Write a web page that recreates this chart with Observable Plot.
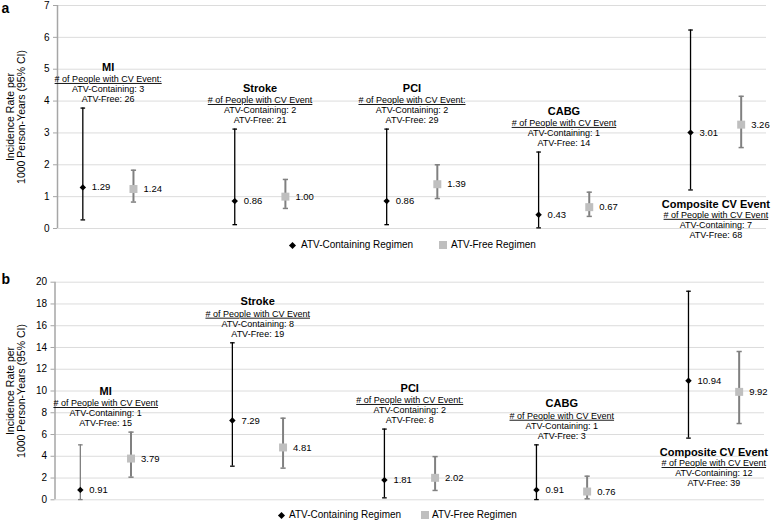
<!DOCTYPE html>
<html>
<head>
<meta charset="utf-8">
<script src="https://cdn.jsdelivr.net/npm/d3@7"></script>
<script src="https://cdn.jsdelivr.net/npm/@observablehq/plot@0.6"></script>
<style>
  body { margin: 0; background: #fff; font-family: "Liberation Sans", Arial, sans-serif; }
  #wrap { width: 778px; }
  .lg { position: relative; width: 778px; font-size: 10px; color: #000; }
  .lg .dia { position: absolute; width: 5px; height: 5px; background: #000; transform: rotate(45deg); }
  .lg .sq { position: absolute; width: 8px; height: 8px; background: #bfbfbf; }
  .lg .t { position: absolute; white-space: nowrap; }
  svg { display: block; overflow: visible; position: relative; }
</style>
</head>
<body>
<div id="wrap"></div>
<script>
// ---------- data ----------
const categories = ["MI", "Stroke", "PCI", "CABG", "Composite CV Event"];

// Panel a
const aTicks = [0, 1, 2, 3, 4, 5, 6, 7];
const aContaining   = [1.29, 0.86, 0.86, 0.43, 3.01];
const aContainingLo = [0.27, 0.12, 0.12, 0.02, 1.21];
const aContainingHi = [3.78, 3.12, 3.12, 2.40, 6.23];
const aFree   = [1.24, 1.00, 1.39, 0.67, 3.26];
const aFreeLo = [0.83, 0.63, 0.94, 0.38, 2.54];
const aFreeHi = [1.83, 1.54, 2.00, 1.14, 4.15];
const aCountContaining = [3, 2, 2, 1, 7];
const aCountFree = [26, 21, 29, 14, 68];
const aHeaders = ["# of People with CV Event:", "# of People with CV Event", "# of People with CV Event:", "# of People with CV Event", "# of People with CV Event"];

// Panel b
const bTicks = [0, 2, 4, 6, 8, 10, 12, 14, 16, 18, 20];
const bContaining   = [0.91, 7.29, 1.81, 0.91, 10.94];
const bContainingLo = [0.02, 3.09, 0.18, 0.02, 5.67];
const bContainingHi = [5.05, 14.43, 6.50, 5.05, 19.17];
const bFree   = [3.79, 4.81, 2.02, 0.76, 9.92];
const bFreeLo = [2.08, 2.91, 0.86, 0.09, 7.01];
const bFreeHi = [6.22, 7.50, 3.97, 2.17, 13.63];
const bCountContaining = [1, 8, 2, 1, 12];
const bCountFree = [15, 19, 8, 3, 39];
const bHeaders = ["# of People with CV Event", "# of People with CV Event", "# of People with CV Event:", "# of People with CV Event", "# of People with CV Event"];

const yLabel = "Incidence Rate per\n1000 Person-Years (95% CI)";
const legendLabels = ["ATV-Containing Regimen", "ATV-Free Regimen"];

// ---------- drawing ----------
const FONT = "'Liberation Sans', Arial, sans-serif";
const capSym = {
  draw(ctx, size) {
    const h = Math.sqrt(size / Math.PI);
    ctx.moveTo(-h, 0);
    ctx.lineTo(h, 0);
  }
};

function panel(cfg) {
  const n = categories.length;
  const rows = categories.map((cat, i) => ({
    cat, i,
    xc: i * 3, xf: i * 3 + 1, xm: i * 3 + 0.5,
    c: cfg.containing[i], cLo: cfg.cLo[i], cHi: cfg.cHi[i],
    f: cfg.free[i], fLo: cfg.fLo[i], fHi: cfg.fHi[i],
    nC: cfg.nC[i], nF: cfg.nF[i], header: cfg.headers[i],
    top: Math.max(cfg.cHi[i], cfg.fHi[i]),
    bottom: Math.min(cfg.cLo[i], cfg.fLo[i]),
    below: i === n - 1,
    cStroke: cfg.grayFirst && i === 0 ? "#808080" : "#000"
  }));
  const above = rows.filter(d => !d.below);
  const below = rows.filter(d => d.below);

  const yA = d => d.below ? d.bottom : d.top;
  const annot = (data, dys) => [
    Plot.text(data, {x: "xm", y: yA, text: "cat", dy: dys[0], fontWeight: "bold", fontSize: 11, fill: "#000"}),
    Plot.text(data, {x: "xm", y: yA, text: "header", dy: dys[1], fontSize: 9, fill: "#000"}),
    Plot.text(data, {x: "xm", y: yA, text: d => `ATV-Containing: ${d.nC}`, dy: dys[2], fontSize: 9, fill: "#000"}),
    Plot.text(data, {x: "xm", y: yA, text: d => `ATV-Free: ${d.nF}`, dy: dys[3], fontSize: 9, fill: "#000"})
  ];

  const svg = Plot.plot({
    width: 778,
    height: cfg.height,
    marginTop: cfg.marginTop,
    marginBottom: cfg.marginBottom,
    marginLeft: cfg.marginLeft,
    marginRight: cfg.marginRight,
    style: {fontFamily: FONT, fontSize: "10px", color: "#000", background: "transparent", overflow: "visible"},
    x: {domain: [-0.5, 13.5], axis: null},
    y: {domain: [0, cfg.ticks[cfg.ticks.length - 1]], axis: null},
    color: {type: "identity"},
    marks: [
      Plot.gridY(cfg.ticks, {stroke: "#dcdcdc", strokeOpacity: 1}),
      Plot.ruleX([-0.5], {stroke: "#a6a6a6", strokeWidth: 1.5}),
      Plot.axisY(cfg.ticks, {tickSize: 4, tickPadding: 4, stroke: "#a6a6a6", fill: "#000", fontSize: 10, label: null}),
      // ATV-containing error bars
      Plot.ruleX(rows, {x: "xc", y1: "cLo", y2: "cHi", stroke: "cStroke", strokeWidth: 1.3}),
      Plot.dot(rows, {x: "xc", y: "cLo", symbol: capSym, r: 2.3, stroke: "cStroke", strokeWidth: 1.3, fill: "none"}),
      Plot.dot(rows, {x: "xc", y: "cHi", symbol: capSym, r: 2.3, stroke: "cStroke", strokeWidth: 1.3, fill: "none"}),
      // ATV-free error bars
      Plot.ruleX(rows, {x: "xf", y1: "fLo", y2: "fHi", stroke: "#808080", strokeWidth: 2}),
      Plot.dot(rows, {x: "xf", y: "fLo", symbol: capSym, r: 2.6, stroke: "#808080", strokeWidth: 1.5, fill: "none"}),
      Plot.dot(rows, {x: "xf", y: "fHi", symbol: capSym, r: 2.6, stroke: "#808080", strokeWidth: 1.5, fill: "none"}),
      // markers
      Plot.dot(rows, {x: "xc", y: "c", symbol: "diamond2", r: 2.9, fill: "#000", stroke: "none"}),
      Plot.dot(rows, {x: "xf", y: "f", symbol: "square", r: 4.5, fill: "#bfbfbf", stroke: "none"}),
      // value labels
      Plot.text(rows, {x: "xc", y: "c", text: d => d.c.toFixed(2), dx: 9, textAnchor: "start", fontSize: 9.5, fill: "#000"}),
      Plot.text(rows, {x: "xf", y: "f", text: d => d.f.toFixed(2), dx: 10, textAnchor: "start", fontSize: 9.5, fill: "#000"}),
      // annotations
      ...annot(above, [-41, -29, -19, -9]),
      ...annot(below, [14.5, 25, 35, 45]),
      // panel letter
      Plot.text([cfg.letter], {frameAnchor: "top-left", dx: 1 - cfg.marginLeft, dy: cfg.letterDy, textAnchor: "start", lineAnchor: "top", fontWeight: "bold", fontSize: 14, fill: "#000"}),
      // y label
      Plot.text([yLabel], {frameAnchor: "left", dx: 15.5 - cfg.marginLeft, rotate: -90, textAnchor: "middle", lineAnchor: "middle", lineHeight: 1.05, fontSize: 10.5, fill: "#000"})
    ]
  });
  d3.select(svg).selectAll("text")
    .filter(function () { return this.textContent.startsWith("#"); })
    .style("text-decoration", "underline");
  return svg;
}

function legend(h, items) {
  const div = document.createElement("div");
  div.className = "lg";
  div.style.height = h + "px";
  const mid = h / 2;
  div.innerHTML =
    `<span class="dia" style="left:${items[0] - 2.5}px;top:${mid - 2.5}px"></span>` +
    `<span class="t" style="left:${items[1]}px;top:${mid - 6}px;line-height:12px">${legendLabels[0]}</span>` +
    `<span class="sq" style="left:${items[2] - 4}px;top:${mid - 4}px"></span>` +
    `<span class="t" style="left:${items[3]}px;top:${mid - 6}px;line-height:12px">${legendLabels[1]}</span>`;
  return div;
}

const wrap = document.getElementById("wrap");
wrap.appendChild(panel({
  letter: "a", ticks: aTicks,
  containing: aContaining, cLo: aContainingLo, cHi: aContainingHi,
  free: aFree, fLo: aFreeLo, fHi: aFreeHi,
  nC: aCountContaining, nF: aCountFree, headers: aHeaders,
  height: 236, marginTop: 5, marginBottom: 8, marginLeft: 57, marginRight: 12,
  letterDy: -2, grayFirst: false
}));
wrap.appendChild(legend(18, [292.5, 301, 442.5, 451]));
wrap.appendChild(panel({
  letter: "b", ticks: bTicks,
  containing: bContaining, cLo: bContainingLo, cHi: bContainingHi,
  free: bFree, fLo: bFreeLo, fHi: bFreeHi,
  nC: bCountContaining, nF: bCountFree, headers: bHeaders,
  height: 254, marginTop: 27.7, marginBottom: 8.7, marginLeft: 54.5, marginRight: 14,
  letterDy: -8, grayFirst: true
}));
wrap.appendChild(legend(14, [281.7, 289, 424.5, 432]));
</script>
</body>
</html>
